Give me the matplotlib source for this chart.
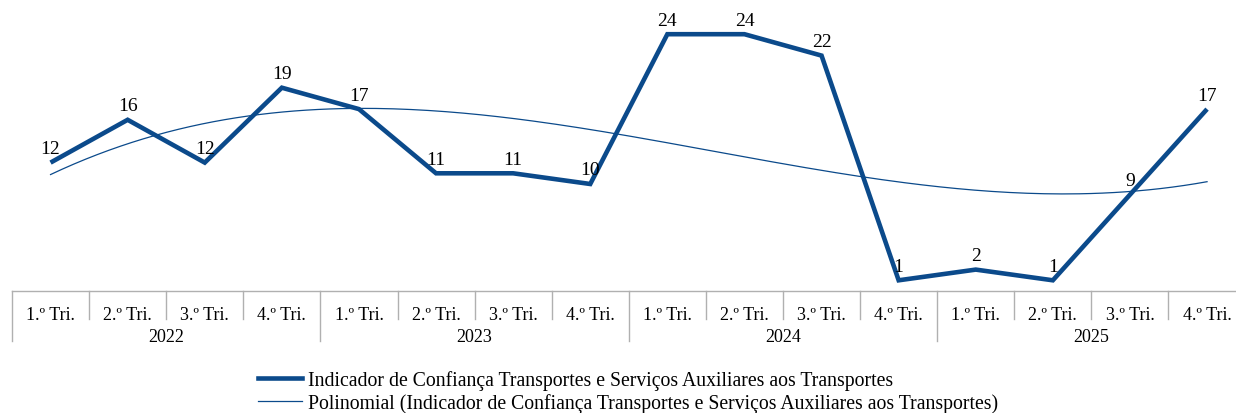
import numpy as np
import matplotlib
matplotlib.use("Agg")
import matplotlib.pyplot as plt
from matplotlib.lines import Line2D

plt.rcParams['font.family'] = ['Liberation Serif', 'DejaVu Serif']

quarters = ["1.º Tri.", "2.º Tri.", "3.º Tri.", "4.º Tri."]
years = ["2022", "2023", "2024", "2025"]
values = [12, 16, 12, 19, 17, 11, 11, 10, 24, 24, 22, 1, 2, 1, 9, 17]
label_main = "Indicador de Confiança Transportes e Serviços Auxiliares aos Transportes"
label_trend = "Polinomial (Indicador de Confiança Transportes e Serviços Auxiliares aos Transportes)"

blue = '#0b4a8b'
grid = '#b0b0b0'

W, H = 1236, 414
fig = plt.figure(figsize=(W / 100, H / 100), dpi=100)
ax_h = 292.0
ax = fig.add_axes([12 / W, (H - 292) / H, 1233.6 / W, ax_h / H])

x = np.arange(len(values))
ax.plot(x, values, color=blue, lw=3.3, solid_joinstyle='miter', solid_capstyle='butt', zorder=3)

# polynomial trendline (order 3) from the series
coef = np.polyfit(x, values, 3)
xs = np.linspace(0, len(values) - 1, 200)
ax.plot(xs, np.polyval(coef, xs), color=blue, lw=0.9, zorder=2)

for xi, v in zip(x, values):
    ax.annotate(str(v), (xi, v), xytext=(0, 4), textcoords='offset points',
                ha='center', va='bottom', fontsize=14, color='black')

ax.set_xlim(-0.5, len(values) - 0.5)
ax.set_ylim(0, 292 / 10.7)
for s in ['left', 'right', 'top']:
    ax.spines[s].set_visible(False)
ax.spines['bottom'].set_color(grid)
ax.spines['bottom'].set_linewidth(1)
ax.set_xticks([])
ax.set_yticks([])

trans = ax.get_xaxis_transform()
n = len(quarters)
for i in range(len(values) + 1):
    depth = 50 if i % n == 0 else 28
    ax.plot([i - 0.5, i - 0.5], [0, -depth / ax_h], color=grid, lw=1,
            transform=trans, clip_on=False)
for i in range(len(values)):
    ax.text(i, -24 / ax_h, quarters[i % n], transform=trans, ha='center', va='center',
            fontsize=13)
for j, yr in enumerate(years):
    ax.text(j * n + (n - 1) / 2, -46 / ax_h, yr, transform=trans, ha='center', va='center',
            fontsize=13)

handles = [Line2D([], [], color=blue, lw=3.3), Line2D([], [], color=blue, lw=0.9)]
fig.legend(handles, [label_main, label_trend], loc='center',
           bbox_to_anchor=(628 / W, 1 - 392.5 / H), frameon=False, fontsize=14.2,
           handlelength=2.25, handletextpad=0.3, labelspacing=0.2,
           borderpad=0.2)

fig.savefig('out.png', dpi=100)
